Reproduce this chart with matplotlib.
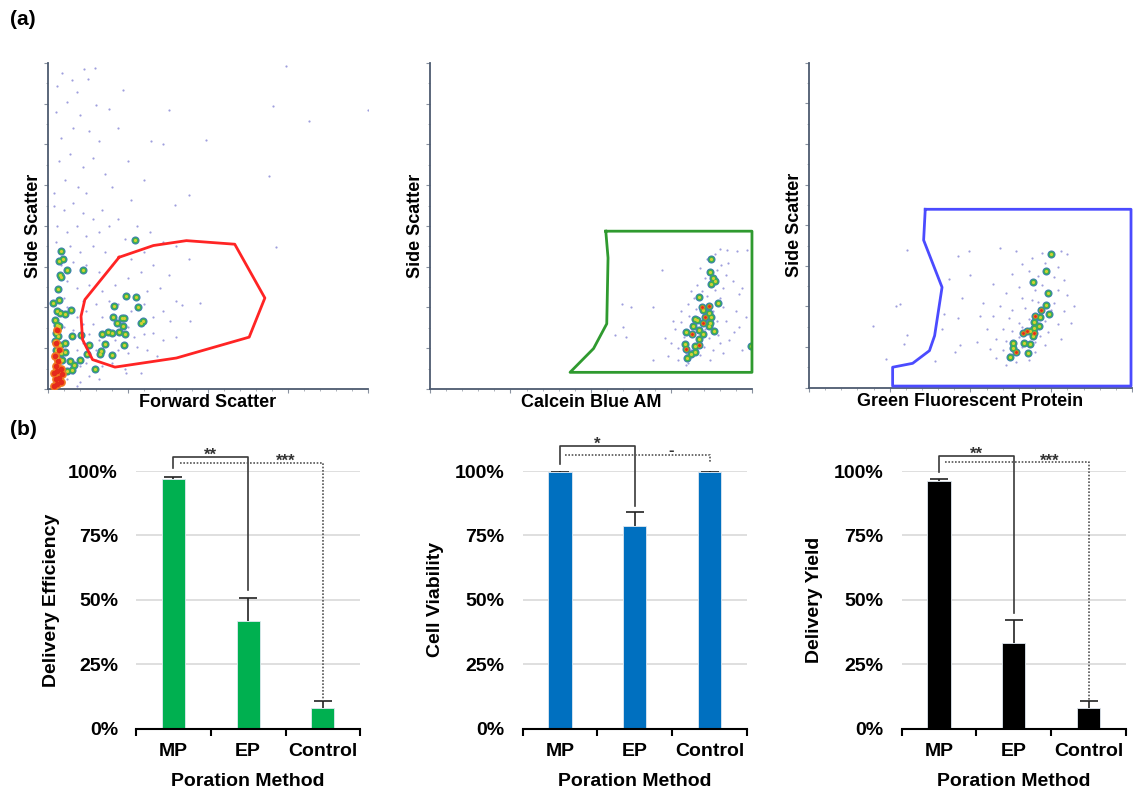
import matplotlib
matplotlib.use('Agg')
import matplotlib.pyplot as plt
import numpy as np

plt.rcParams['font.family'] = ['Liberation Sans', 'DejaVu Sans']
plt.rcParams['font.weight'] = 'bold'

# ---------------- (a) flow cytometry data (axis units 0-100) ----------------
fsc_gate = [(22.3, 40.4), (33.0, 44.0), (43.3, 45.5), (58.4, 44.4), (67.8, 27.9), (62.9, 15.9),
            (40.2, 9.5), (21.0, 6.7), (14.0, 9.0), (10.9, 15.1), (10.4, 22.3), (11.6, 27.4)]
cba_gate = [(54.6, 48.4), (100, 48.4), (100, 5.1), (43.5, 5.1), (50.8, 12.4), (54.9, 20.0), (55.3, 40.2)]
gfp_gate = [(36.0, 54.9), (99.7, 54.9), (99.7, 0.5), (25.9, 0.5), (25.9, 6.3), (32.1, 7.5),
            (37.3, 11.4), (38.9, 16.0), (41.2, 30.9), (35.5, 45.4)]

fsc_blobs = [(27.2, 45.8), (4.1, 42.2), (4.9, 39.9), (3.5, 39.2), (5.9, 36.6), (10.9, 36.4), (3.8, 35.1),
             (4.2, 34.4), (3.3, 30.7), (3.6, 27.2), (1.8, 26.4), (3.0, 23.8), (3.8, 23.3), (5.4, 23.0),
             (7.3, 24.3), (2.3, 21.3), (2.8, 19.7), (3.6, 19.2), (2.6, 17.2), (3.3, 16.2), (7.5, 16.4),
             (10.4, 16.7), (2.3, 14.6), (3.8, 13.6), (5.4, 14.1), (2.6, 12.1), (4.1, 11.0), (5.4, 11.2),
             (2.8, 9.5), (4.4, 9.0), (7.0, 8.5), (8.2, 7.2), (5.9, 5.4), (7.5, 5.9), (10.1, 9.0),
             (13.0, 13.6), (12.4, 10.8), (14.8, 6.2), (16.6, 11.6), (16.3, 10.8), (16.8, 17.0),
             (17.9, 13.9), (18.9, 17.4), (20.0, 17.2), (20.0, 10.3), (20.7, 25.4), (20.5, 22.0),
             (21.5, 20.2), (22.3, 17.4), (23.1, 21.7), (23.8, 21.7), (23.6, 19.2), (23.8, 13.4),
             (24.2, 16.9), (24.6, 28.6), (27.5, 28.2), (28.3, 25.2), (29.0, 20.2), (29.8, 20.8)]
fsc_hot = [(2.0, 1.0), (3.0, 1.5), (4.0, 2.0), (2.5, 3.0), (3.5, 3.5), (2.0, 5.0), (3.0, 5.5),
           (4.2, 6.0), (2.5, 7.0), (3.2, 8.5), (2.2, 10.0), (3.5, 12.0), (2.5, 14.0), (4.5, 4.5), (3.0, 18.0)]
fsc_sparse = [(4.4, 96.9), (7.5, 94.9), (11.3, 98), (14.8, 98.5), (23.6, 91.8), (3, 93), (9, 91), (12.5, 95),
              (6, 88), (2.5, 85), (10, 84), (15, 87), (19, 86), (8, 80), (13, 79), (4, 77), (16, 76), (22, 80),
              (3.5, 70), (7, 72), (11, 68), (14, 71), (18, 66), (5.5, 64), (9.5, 62), (20, 62), (25, 70), (2, 60),
              (12, 60), (37.9, 85.5), (32.4, 76.0), (36.1, 75.2), (49.3, 76.5), (70.4, 86.7), (81.6, 82.1),
              (100, 85.7), (69.1, 65.2), (74.3, 99), (44.1, 59.4), (39.7, 56.5), (26, 58), (30, 64),
              (2, 56), (5, 55), (8, 57), (11, 54), (14, 52), (17, 55), (3, 50), (6, 48), (9, 50), (12, 47),
              (16, 48), (19, 50), (22, 52), (2.5, 45), (7, 44), (10, 42), (14, 44), (18, 42), (24, 46), (28, 50),
              (32, 48), (4, 38), (8, 39), (12, 38), (16, 36), (20, 38), (26, 40), (30, 42), (36, 45), (40, 44),
              (71.2, 43.6), (6, 33), (9, 31), (13, 32), (17, 30), (21, 32), (25, 34), (29, 36), (33, 38),
              (38, 35), (44, 40), (5, 28), (11, 27), (15, 26), (19, 27), (31, 30), (35, 31), (40, 27),
              (6, 25), (9, 22), (12, 24), (14, 20), (17, 22), (22, 26), (26, 24), (30, 26), (33, 22), (36, 24),
              (41.8, 25.9), (47.5, 26.4), (44.4, 20.8), (38.1, 20.8), (5, 19), (8, 18), (11, 20), (13, 17),
              (16, 15), (19, 18), (21, 15), (25, 19), (27, 16), (30, 17), (33, 17.2), (36, 15), (40, 16),
              (6, 14), (9, 12), (11, 14), (13, 11), (15, 12), (18, 14), (22, 12), (25, 11), (28, 13), (31, 12),
              (34, 10), (7, 9), (10, 7), (12, 8), (15, 9), (17, 7), (20, 8), (24, 6), (29, 5), (24.5, 5),
              (4, 4), (6, 3), (8, 5), (10, 2), (13, 4), (16, 3), (9, 1), (3.5, 0.8)]

cba_blobs = [(87.4, 39.9), (87.0, 35.8), (87.8, 34.0), (88.4, 33.2), (87.3, 32.2), (83.7, 28.1), (89.6, 26.4),
             (84.5, 25.2), (86.8, 25.6), (84.7, 24.3), (86.5, 23.3), (87.3, 22.0), (85.5, 22.0), (82.4, 21.5),
             (82.9, 21.3), (84.8, 20.2), (86.5, 19.4), (81.7, 19.4), (83.6, 18.2), (87.0, 20.2), (88.1, 17.7),
             (79.6, 17.4), (81.3, 17.0), (84.8, 16.9), (83.4, 15.3), (79.1, 13.9), (79.6, 12.4), (83.7, 13.6),
             (82.2, 13.1), (81.0, 10.7), (82.4, 11.2), (79.8, 9.5), (99.7, 13.3)]
cba_hot = [(79.6, 12.4), (81.3, 17.0), (84.5, 25.2), (85.5, 22.0), (84.8, 20.2), (86.8, 25.6), (83.7, 13.6)]
cba_sparse = [(59.6, 26.2), (62.4, 25.2), (69.2, 25.2), (72.0, 36.4), (60.1, 19.0), (57.5, 16.7), (60.9, 16.0),
              (69.4, 8.8), (98.4, 42.7), (95.3, 42.2), (92.2, 42.7), (90, 43), (88.5, 41.5), (86, 40), (90.5, 38),
              (84, 37), (89, 36.5), (92, 35), (85.5, 34), (83, 32), (88.5, 30.5), (91, 31), (94, 33), (96, 29),
              (84.5, 30), (82, 28), (86, 28.5), (90, 28), (80, 26), (78, 24), (88, 24), (91, 25), (95, 24),
              (80.5, 22.5), (78, 20.5), (89, 21), (92, 21), (96, 19), (76, 18.5), (79, 16), (86.5, 15.5),
              (89.5, 16.5), (93, 15), (75, 14), (77, 12.5), (85, 13), (88, 12), (91, 11), (97, 12), (74, 10),
              (77, 9), (80, 8), (84, 10.5), (87, 9), (79.5, 7.2), (73, 15.5), (75.5, 21), (81, 30), (87, 33),
              (89, 26.5), (82.5, 24.5), (83.5, 14.8), (85.5, 18.5), (81, 12), (79.5, 11), (92.5, 38.5),
              (98, 22), (97, 31), (94.5, 17.5), (90, 14)]

gfp_blobs = [(75.0, 41.0), (73.3, 36.0), (69.3, 32.6), (74.0, 29.0), (73.3, 25.6), (71.8, 23.9), (74.2, 22.7),
             (70.1, 22.2), (71.4, 21.8), (69.8, 20.3), (71.2, 19.0), (69.6, 18.5), (68.3, 17.4), (67.5, 17.4),
             (66.3, 16.7), (69.8, 16.7), (69.3, 15.9), (63.2, 13.9), (66.7, 13.9), (68.3, 13.6), (63.2, 12.3),
             (64.0, 11.1), (67.7, 10.8), (62.1, 9.3)]
gfp_hot = [(67.5, 17.4), (66.3, 16.7), (70.1, 22.2), (71.8, 23.9), (69.8, 16.7), (64.0, 11.1)]
gfp_sparse = [(30.3, 42.4), (49.4, 42.2), (59.2, 42.9), (46.1, 40.6), (27.0, 25.1), (28.3, 25.7), (19.8, 19.0),
              (23.7, 8.7), (29.5, 13.6), (30.3, 16.2), (39.1, 8.3), (45.3, 11.1), (46.0, 21.5), (46.9, 13.1),
              (47.4, 27.5), (50.0, 34.7), (43.5, 33.6), (41.9, 22.6), (41.2, 18.2),
              (64, 42), (69, 40), (72, 41.5), (78, 42), (80, 41), (66, 38), (73, 38.5), (77, 37), (63, 35),
              (68, 36), (71, 34.5), (76, 34), (79, 33), (65, 31), (70, 30), (72, 31.5), (77, 30), (80, 28.5),
              (61, 29), (66, 27.5), (69, 27), (71, 26.5), (76, 26), (59, 25), (63, 24), (67, 24.5), (75, 24),
              (79, 23.5), (57, 22), (62, 21.5), (65, 20), (68, 21), (73, 20.5), (77, 19.5), (60, 18), (63, 17.5),
              (66, 18.8), (71.5, 16), (74, 17), (58, 15), (61, 14.5), (65, 15.5), (70, 14), (73, 13), (56, 12),
              (60, 11.5), (62, 10.5), (66, 12.5), (70, 11), (58, 9), (64, 8), (68, 8.5), (61, 7), (55, 18),
              (54, 26), (57, 32), (82, 25), (81, 20), (78, 15), (52, 14), (53, 22)]

# ---------------- (b) bar chart data ----------------
methods = ['MP', 'EP', 'Control']
efficiency = [97.0, 42.0, 8.0]
efficiency_err = [0.7, 8.6, 2.6]
viability = [99.8, 78.5, 99.8]
viability_err = [0.2, 5.6, 0.2]
yield_ = [96.2, 33.2, 7.9]
yield_err = [0.8, 9.0, 2.7]

fig = plt.figure(figsize=(11.33, 7.93), dpi=100)

axis_col = '#4d5b70'


def flow_panel(rect, sparse, blobs, hot, gate, gate_col, xlabel, red_base=False):
    ax = fig.add_axes(rect)
    ax.set_xlim(0, 100)
    ax.set_ylim(0, 100)
    for s in ['top', 'right']:
        ax.spines[s].set_visible(False)
    for s in ['left', 'bottom']:
        ax.spines[s].set_color(axis_col)
        ax.spines[s].set_linewidth(1.3)
    ax.set_xticks(np.arange(0, 101, 25))
    ax.set_xticks(np.arange(0, 101, 5), minor=True)
    ax.set_yticks(np.arange(0, 101, 12.5))
    ax.set_yticks(np.arange(0, 101, 6.25), minor=True)
    ax.tick_params(which='major', length=3, color='#8a92a0', labelleft=False, labelbottom=False)
    ax.tick_params(which='minor', length=1.5, color='#a0a6b0')

    sp = np.array(sparse)
    ax.scatter(sp[:, 0], sp[:, 1], s=2.5, color='#8e8ed8', lw=0, alpha=0.85, zorder=2)
    b = np.array(blobs)
    ax.scatter(b[:, 0], b[:, 1], s=34, color='#3f7fb6', lw=0, zorder=3)
    ax.scatter(b[:, 0], b[:, 1], s=19, color='#3fb24c', lw=0, zorder=4)
    ax.scatter(b[:, 0], b[:, 1], s=5, color='#d6d034', lw=0, zorder=5)
    h = np.array(hot)
    if red_base:
        ax.scatter(h[:, 0], h[:, 1], s=40, color='#f07a22', lw=0, zorder=4.5)
        ax.scatter(h[:, 0], h[:, 1], s=16, color='#e52a1c', lw=0, zorder=6)
    else:
        ax.scatter(h[:, 0], h[:, 1], s=10, color='#f07a22', lw=0, zorder=6)
        ax.scatter(h[:, 0], h[:, 1], s=4, color='#e52a1c', lw=0, zorder=7)

    g = np.array(gate + [gate[0]])
    ax.plot(g[:, 0], g[:, 1], color=gate_col, lw=2.0, clip_on=False, zorder=8)

    ax.text(0.5, -0.042, xlabel, transform=ax.transAxes, ha='center', va='center',
            fontsize=13, fontweight='bold')
    ax.text(-0.045, 0.5, 'Side Scatter', transform=ax.transAxes, ha='center', va='center',
            rotation=90, fontsize=13, fontweight='bold')
    return ax


flow_panel([0.0421, 0.5095, 0.2827, 0.4111], fsc_sparse, fsc_blobs, fsc_hot, fsc_gate,
           '#ff2424', 'Forward Scatter', red_base=True)
flow_panel([0.3795, 0.5095, 0.2842, 0.4111], cba_sparse, cba_blobs, cba_hot, cba_gate,
           '#2f9a2f', 'Calcein Blue AM')
flow_panel([0.7140, 0.5111, 0.2851, 0.4098], gfp_sparse, gfp_blobs, gfp_hot, gfp_gate,
           '#4b4bff', 'Green Fluorescent Protein')


def bar_panel(left, vals, errs, color, ylabel, label_x, solid, dotted):
    ax = fig.add_axes([left, 0.081, 0.198, 0.325])
    x = np.arange(len(methods))
    ax.bar(x, vals, width=0.31, color=color, edgecolor='#dfe8f0', lw=0.6, zorder=3)
    eb = ax.errorbar(x, vals, yerr=[[0] * 3, errs], fmt='none', ecolor='#222222', elinewidth=1.2,
                     capsize=6.5, capthick=1.2, zorder=4)
    eb[1][0].set_visible(False)   # hide lower caps, keep only the upper ones
    ax.set_xlim(-0.5, 2.5)
    ax.set_ylim(0, 100)
    ax.set_yticks([0, 25, 50, 75, 100])
    ax.set_yticklabels(['0%', '25%', '50%', '75%', '100%'])
    ax.grid(axis='y', color='#d9d9d9', lw=1.2, zorder=0)
    for s in ['top', 'right', 'left']:
        ax.spines[s].set_visible(False)
    ax.spines['bottom'].set_linewidth(1.5)
    ax.spines['bottom'].set_zorder(5)
    ax.set_xticks([-0.5, 0.5, 1.5, 2.5])
    ax.set_xticklabels([])
    ax.set_xticks(x, minor=True)
    ax.set_xticklabels(methods, minor=True)
    ax.tick_params(axis='x', which='major', length=5, width=1.5, direction='out')
    ax.tick_params(axis='x', which='minor', length=0, pad=10, labelsize=14)
    ax.tick_params(axis='y', length=0, pad=13, labelsize=14)
    for t in ax.get_xticklabels(minor=True) + ax.get_yticklabels():
        t.set_fontweight('bold')
    ax.text(0.5, -0.203, 'Poration Method', transform=ax.transAxes, ha='center', va='center',
            fontsize=14, fontweight='bold')
    ax.text(label_x, 0.5, ylabel, transform=ax.transAxes, ha='center', va='center',
            rotation=90, fontsize=14, fontweight='bold')

    # solid bracket MP vs EP
    top, mp_b, ep_b, lab, lab_y = solid
    ax.plot([0, 0, 1, 1], [mp_b, top, top, ep_b], color='#3a3a3a', lw=1.2, clip_on=False, zorder=6)
    ax.text(0.5, lab_y, lab, ha='center', va='center', fontsize=12, color='#333333', clip_on=False)
    # dotted bracket MP vs Control
    dy, x0, ctrl_b, lab, lab_x, lab_y = dotted
    ax.plot([x0, 2, 2], [dy, dy, ctrl_b], color='#555555', lw=1.2, ls=(0, (1, 1)), clip_on=False, zorder=6)
    ax.text(lab_x, lab_y, lab, ha='center', va='center', fontsize=12, color='#333333', clip_on=False)
    return ax


bar_panel(0.1200, efficiency, efficiency_err, '#00b050', 'Delivery Efficiency', -0.375,
          (105.4, 101.0, 53.9, '**', 106.0), (103.1, 0.087, 10.6, '***', 1.5, 103.6))
bar_panel(0.4613, viability, viability_err, '#0070c0', 'Cell Viability', -0.389,
          (109.7, 102.6, 86.4, '*', 110.3), (106.1, 0.07, 103.3, '-', 1.49, 107.8))
bar_panel(0.7958, yield_, yield_err, '#000000', 'Delivery Yield', -0.387,
          (105.9, 99.6, 44.8, '**', 106.6), (103.4, 0.08, 11.2, '***', 1.48, 103.9))

fig.text(0.009, 0.975, '(a)', fontsize=15, fontweight='bold', ha='left', va='center')
fig.text(0.009, 0.458, '(b)', fontsize=15, fontweight='bold', ha='left', va='center')

fig.savefig('out.png', dpi=100)
